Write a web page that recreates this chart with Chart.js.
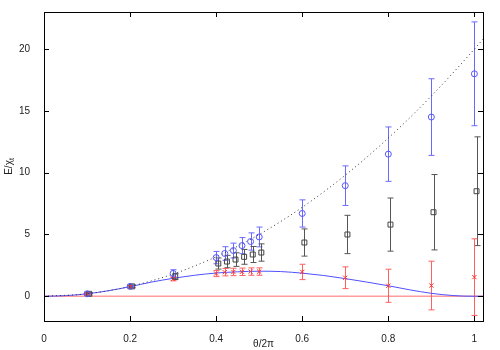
<!DOCTYPE html>
<html>
<head>
<meta charset="utf-8">
<script src="https://cdn.jsdelivr.net/npm/chart.js@4.4.1/dist/chart.umd.min.js"></script>
<style>
  body { margin: 0; background: #fff; }
  canvas { display: block; }
</style>
</head>
<body>
<canvas id="chart" width="500" height="350"></canvas>
<script>
// Данные
var thetaX = [0.1, 0.2, 0.3, 0.4, 0.42, 0.44, 0.46, 0.48, 0.5, 0.6, 0.7, 0.8, 0.9, 1.0];
var squareX = [0.105, 0.205, 0.305, 0.405, 0.425, 0.445, 0.465, 0.485, 0.505, 0.605, 0.705, 0.805, 0.905, 1.005];

var blueY   = [0.2, 0.8, 1.85, 3.13, 3.46, 3.7, 4.1, 4.43, 4.8, 6.7, 8.95, 11.5, 14.5, 18.0];
var blueErr = [0.1, 0.12, 0.3, 0.5, 0.55, 0.6, 0.65, 0.7, 0.8, 1.1, 1.6, 2.2, 3.1, 4.2];

var blackY   = [0.2, 0.8, 1.6, 2.65, 2.81, 2.97, 3.19, 3.38, 3.54, 4.35, 5.0, 5.8, 6.8, 8.5];
var blackErr = [0.1, 0.1, 0.25, 0.45, 0.5, 0.55, 0.6, 0.65, 0.7, 1.1, 1.55, 2.15, 3.05, 4.4];

var redY   = [0.2, 0.75, 1.4, 1.84, 1.95, 1.97, 1.98, 2.0, 2.0, 1.97, 1.5, 0.85, 0.87, 1.55];
var redErr = [0.05, 0.1, 0.15, 0.25, 0.3, 0.3, 0.3, 0.3, 0.3, 0.62, 0.88, 1.34, 1.97, 3.1];

// Кривые
var dottedX = [0, 0.1, 0.2, 0.3, 0.4, 0.5, 0.6, 0.7, 0.8, 0.9, 1.0, 1.02];
var dottedY = [0, 0.2, 0.8, 1.8, 3.2, 5.0, 7.2, 9.8, 12.8, 16.2, 20.0, 20.8];

var blueCurveX = [0, 0.05, 0.1, 0.15, 0.2, 0.25, 0.3, 0.35, 0.4, 0.45, 0.5, 0.55, 0.6, 0.65, 0.7, 0.75, 0.8, 0.85, 0.9, 0.95, 1.0, 1.02];
var blueCurveY = [0, 0.05, 0.2, 0.45, 0.78, 1.15, 1.45, 1.7, 1.88, 1.98, 2.03, 2.0, 1.87, 1.68, 1.43, 1.15, 0.85, 0.52, 0.24, 0.06, 0, 0];

var redLineX = [0, 1.02];
var redLineY = [0, 0];

var xTicks = [0, 0.2, 0.4, 0.6, 0.8, 1];
var yTicks = [0, 5, 10, 15, 20];

var FONT = '"Liberation Sans", Arial, sans-serif';

function toPoints(xs, ys) {
  return xs.map(function(x, i) { return { x: x, y: ys[i] }; });
}

// Планки погрешностей
var errorBarPlugin = {
  id: 'errorBars',
  beforeDatasetsDraw: function(chart) {
    var ctx = chart.ctx;
    var xs = chart.scales.x, ys = chart.scales.y;
    var area = chart.chartArea;
    ctx.save();
    ctx.beginPath();
    ctx.rect(area.left, area.top, area.right - area.left, area.bottom - area.top);
    ctx.clip();
    chart.data.datasets.forEach(function(ds) {
      if (!ds.errors) return;
      ctx.strokeStyle = ds.errorColor;
      ctx.lineWidth = 1;
      ds.data.forEach(function(p, i) {
        var e = ds.errors[i];
        var px = Math.round(xs.getPixelForValue(p.x)) + 0.5;
        var top = ys.getPixelForValue(p.y + e);
        var bot = ys.getPixelForValue(p.y - e);
        ctx.beginPath();
        ctx.moveTo(px, top);
        ctx.lineTo(px, bot);
        ctx.moveTo(px - 3, top);
        ctx.lineTo(px + 3, top);
        ctx.moveTo(px - 3, bot);
        ctx.lineTo(px + 3, bot);
        ctx.stroke();
      });
    });
    ctx.restore();
  }
};

// Рамка, внутренние засечки и подписи осей
var framePlugin = {
  id: 'frame',
  afterDraw: function(chart) {
    var ctx = chart.ctx;
    var a = chart.chartArea;
    var xs = chart.scales.x, ys = chart.scales.y;
    ctx.save();
    ctx.strokeStyle = '#000';
    ctx.lineWidth = 1;
    ctx.strokeRect(Math.round(a.left) + 0.5, Math.round(a.top) + 0.5,
      Math.round(a.right - a.left), Math.round(a.bottom - a.top));
    ctx.beginPath();
    xTicks.forEach(function(v) {
      var px = Math.round(xs.getPixelForValue(v)) + 0.5;
      ctx.moveTo(px, a.bottom);
      ctx.lineTo(px, a.bottom - 5);
      ctx.moveTo(px, a.top);
      ctx.lineTo(px, a.top + 5);
    });
    yTicks.forEach(function(v) {
      var py = Math.round(ys.getPixelForValue(v)) + 0.5;
      ctx.moveTo(a.left, py);
      ctx.lineTo(a.left + 5, py);
      ctx.moveTo(a.right, py);
      ctx.lineTo(a.right - 5, py);
    });
    ctx.stroke();

    // подпись оси X
    ctx.fillStyle = '#222';
    ctx.font = '10px ' + FONT;
    ctx.textAlign = 'center';
    ctx.textBaseline = 'middle';
    ctx.fillText('θ/2π', (a.left + a.right) / 2, 344);

    // подпись оси Y: E/χ с индексом t
    ctx.translate(9, (a.top + a.bottom) / 2);
    ctx.rotate(-Math.PI / 2);
    ctx.textAlign = 'left';
    var main = 'E/χ';
    var w = ctx.measureText(main).width;
    ctx.font = '7px ' + FONT;
    var ws = ctx.measureText('t').width;
    var start = -(w + ws) / 2;
    ctx.font = '10px ' + FONT;
    ctx.fillText(main, start, 0);
    ctx.font = '7px ' + FONT;
    ctx.fillText('t', start + w, 3);
    ctx.restore();
  }
};

var ctx = document.getElementById('chart').getContext('2d');

new Chart(ctx, {
  type: 'scatter',
  data: {
    datasets: [
      {
        label: 'blue',
        data: toPoints(thetaX, blueY),
        errors: blueErr,
        errorColor: '#6a6aff',
        pointStyle: 'circle',
        pointRadius: 3,
        pointBorderWidth: 1,
        borderColor: '#5555ff',
        backgroundColor: 'rgba(0,0,0,0)',
        order: 1
      },
      {
        label: 'black',
        data: toPoints(squareX, blackY),
        errors: blackErr,
        errorColor: '#555',
        pointStyle: 'rect',
        pointRadius: 3.5,
        pointBorderWidth: 1,
        borderColor: '#444',
        backgroundColor: 'rgba(0,0,0,0)',
        order: 2
      },
      {
        label: 'red',
        data: toPoints(thetaX, redY),
        errors: redErr,
        errorColor: '#ff6060',
        pointStyle: 'crossRot',
        pointRadius: 3,
        pointBorderWidth: 1,
        borderColor: '#ff3030',
        backgroundColor: 'rgba(0,0,0,0)',
        order: 3
      },
      {
        label: 'dotted',
        type: 'line',
        data: toPoints(dottedX, dottedY),
        borderColor: '#333',
        borderWidth: 1,
        borderDash: [1, 3],
        pointRadius: 0,
        cubicInterpolationMode: 'monotone',
        fill: false,
        order: 4
      },
      {
        label: 'blueCurve',
        type: 'line',
        data: toPoints(blueCurveX, blueCurveY),
        borderColor: '#5050ff',
        borderWidth: 1,
        pointRadius: 0,
        cubicInterpolationMode: 'monotone',
        fill: false,
        order: 5
      },
      {
        label: 'redLine',
        type: 'line',
        data: toPoints(redLineX, redLineY),
        borderColor: 'rgba(255,90,90,0.6)',
        borderWidth: 1.5,
        pointRadius: 0,
        fill: false,
        order: 6
      }
    ]
  },
  options: {
    responsive: false,
    animation: false,
    layout: { padding: { top: 12, right: 17, left: 0, bottom: 0 } },
    plugins: {
      legend: { display: false },
      tooltip: { enabled: false }
    },
    scales: {
      x: {
        type: 'linear',
        min: 0,
        max: 1.02,
        grid: { display: false },
        border: { display: false },
        afterBuildTicks: function(scale) {
          scale.ticks = xTicks.map(function(v) { return { value: v }; });
        },
        afterFit: function(scale) { scale.height = 29; },
        ticks: {
          color: '#222',
          font: { family: FONT, size: 10 },
          padding: 4,
          maxRotation: 0,
          callback: function(v) { return String(Math.round(v * 10) / 10); }
        }
      },
      y: {
        type: 'linear',
        min: -2,
        max: 23,
        grid: { display: false },
        border: { display: false },
        afterBuildTicks: function(scale) {
          scale.ticks = yTicks.map(function(v) { return { value: v }; });
        },
        afterFit: function(scale) { scale.width = 44; },
        ticks: {
          color: '#222',
          font: { family: FONT, size: 10 },
          padding: 6
        }
      }
    }
  },
  plugins: [errorBarPlugin, framePlugin]
});
</script>
</body>
</html>
